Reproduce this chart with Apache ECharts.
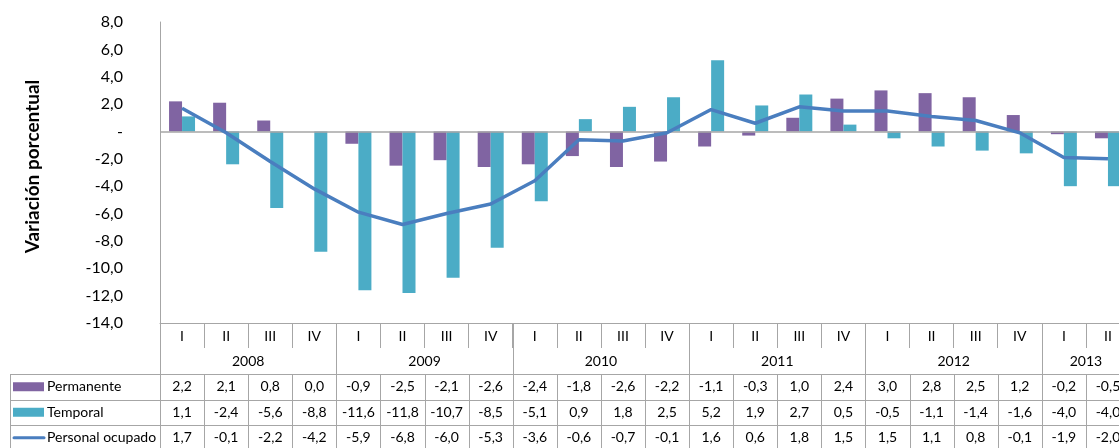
<!DOCTYPE html>
<html><head><meta charset="utf-8">
<script src="https://cdn.jsdelivr.net/npm/echarts@6/dist/echarts.min.js"></script>
<style>html,body{margin:0;padding:0;background:#fff;overflow:hidden;width:1119px;height:448px}#c{width:1130px;height:448px}</style>
</head><body><div id="c"></div>
<script>
// ---- data ----
const quarters = ['I','II','III','IV','I','II','III','IV','I','II','III','IV','I','II','III','IV','I','II','III','IV','I','II'];
const years = ['2008','2009','2010','2011','2012','2013'];
const quartersPerYear = [4,4,4,4,4,2];
const permanente = [2.2,2.1,0.8,0.0,-0.9,-2.5,-2.1,-2.6,-2.4,-1.8,-2.6,-2.2,-1.1,-0.3,1.0,2.4,3.0,2.8,2.5,1.2,-0.2,-0.5];
const temporal = [1.1,-2.4,-5.6,-8.8,-11.6,-11.8,-10.7,-8.5,-5.1,0.9,1.8,2.5,5.2,1.9,2.7,0.5,-0.5,-1.1,-1.4,-1.6,-4.0,-4.0];
const personalOcupado = [1.7,-0.1,-2.2,-4.2,-5.9,-6.8,-6.0,-5.3,-3.6,-0.6,-0.7,-0.1,1.6,0.6,1.8,1.5,1.5,1.1,0.8,-0.1,-1.9,-2.0];
const seriesNames = ['Permanente','Temporal','Personal ocupado'];
const yMin = -14, yMax = 8, yStep = 2;
const yAxisTitle = 'Variación porcentual';

// ---- style ----
const FONT = 'Lato, "Liberation Sans", sans-serif';
const GRAY = '#A6A6A6';
const COLORS = ['#8064A2', '#4BACC6', '#4A7EBF'];
const fmt = v => v.toFixed(1).replace('.', ',');

const chart = echarts.init(document.getElementById('c'));
chart.setOption({
  animation: false,
  grid: { left: 160, top: 22, right: 0, bottom: 125 },
  xAxis: {
    type: 'category', data: quarters, position: 'bottom',
    axisLine: { onZero: false, lineStyle: { color: GRAY, width: 1 } },
    axisTick: { show: true, length: 25, lineStyle: { color: GRAY } },
    axisLabel: { interval: 0, margin: 6, fontFamily: FONT, fontSize: 14, color: '#000' }
  },
  yAxis: {
    type: 'value', min: yMin, max: yMax, interval: yStep,
    axisLine: { show: true, lineStyle: { color: GRAY } },
    axisTick: { show: false }, splitLine: { show: false },
    axisLabel: { margin: 37, fontFamily: FONT, fontSize: 16, color: '#000',
      formatter: v => v === 0 ? '-' : fmt(v) },
    name: yAxisTitle, nameLocation: 'middle', nameGap: 118, nameRotate: 90,
    nameTextStyle: { fontFamily: FONT, fontSize: 19, fontWeight: 'bold', color: '#000',
      padding: [0, 0, 0, 12] }
  },
  series: [
    { name: seriesNames[0], type: 'bar', data: permanente, barWidth: 13, barGap: '0%',
      itemStyle: { color: COLORS[0] },
      markLine: { silent: true, symbol: 'none', label: { show: false },
        lineStyle: { color: GRAY, type: 'solid', width: 1.5 }, data: [{ yAxis: 0 }] } },
    { name: seriesNames[1], type: 'bar', data: temporal, barWidth: 13, barGap: '0%',
      itemStyle: { color: COLORS[1] } },
    { name: seriesNames[2], type: 'line', data: personalOcupado, symbol: 'none', z: 5,
      lineStyle: { width: 3.5, color: COLORS[2] }, itemStyle: { color: COLORS[2] } }
  ]
});

// ---- data table built from the axis scale ----
const cx = i => chart.convertToPixel({ xAxisIndex: 0 }, i);
const bw = cx(1) - cx(0);
const xL = i => cx(i) - bw / 2;
const axisBottomY = chart.convertToPixel({ yAxisIndex: 0 }, yMin);
const els = [];
const crisp = v => Math.round(v) + 0.5;
function line(x1, y1, x2, y2) {
  els.push({ type: 'line', silent: true, shape: { x1, y1, x2, y2 },
    style: { stroke: GRAY, lineWidth: 1 } });
}
function text(x, y, t, opts) {
  opts = opts || {};
  els.push({ type: 'text', silent: true, x: x, y: y, style: Object.assign({
    text: t, fill: '#000', font: '14px ' + FONT,
    align: 'center', verticalAlign: 'middle', textAlign: 'center', textVerticalAlign: 'middle'
  }, opts) });
}
const yearRowBottom = 374;
const rowH = 25.5;
const tableLeft = 10;
const n = quarters.length;
const rightX = xL(n);
// year row
let s = 0;
years.forEach((yr, k) => {
  const e = s + quartersPerYear[k] - 1;
  line(crisp(xL(s)), axisBottomY, crisp(xL(s)), yearRowBottom);
  text((cx(s) + cx(e)) / 2, 361, yr);
  s = e + 1;
});
line(crisp(xL(n)), axisBottomY, crisp(xL(n)), yearRowBottom);
// data rows
const rows = [permanente, temporal, personalOcupado];
for (let r = 0; r <= rows.length; r++) {
  const y = crisp(yearRowBottom + r * rowH);
  line(tableLeft, y, rightX, y);
}
const tableBottom = yearRowBottom + rows.length * rowH;
line(crisp(tableLeft), yearRowBottom, crisp(tableLeft), tableBottom);
for (let i = 0; i <= n; i++) line(crisp(xL(i)), yearRowBottom, crisp(xL(i)), tableBottom);
rows.forEach((vals, r) => {
  const yc = yearRowBottom + r * rowH + rowH / 2;
  vals.forEach((v, i) => text(cx(i), yc, fmt(v)));
  // legend key
  if (r < 2) {
    els.push({ type: 'rect', silent: true, shape: { x: 13, y: yc - 4.5, width: 31, height: 9 },
      style: { fill: COLORS[r] } });
  } else {
    els.push({ type: 'line', silent: true, shape: { x1: 14, y1: yc, x2: 44, y2: yc },
      style: { stroke: COLORS[r], lineWidth: 3, lineCap: 'round' } });
  }
  text(47, yc, seriesNames[r], { align: 'left', textAlign: 'left' });
});
chart.setOption({ graphic: { elements: els } });
</script></body></html>
